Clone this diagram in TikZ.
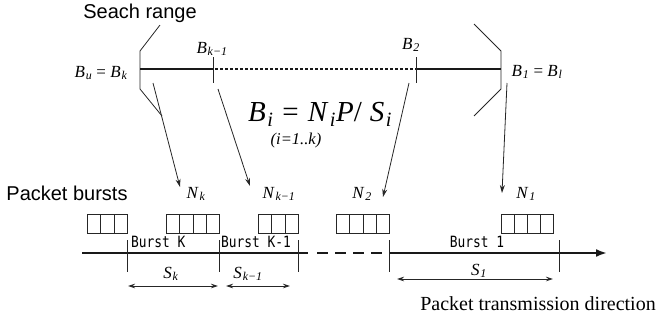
\documentclass[tikz,border=0pt]{standalone}
\usepackage{fontspec}
\setmainfont{Liberation Serif}
\setsansfont{Liberation Sans}
\newfontfamily\burstfont[FakeStretch=0.83]{DejaVu Sans Mono}
\usetikzlibrary{arrows.meta}
\newcommand{\iv}[2]{\textit{#1}\kern0.05em\textsubscript{\textit{#2}}}
\begin{document}
\begin{tikzpicture}[x=1pt,y=-1pt,
  thinl/.style={line width=0.8pt, draw=black!85},
  thickl/.style={line width=2.6pt, draw=black!90},
  arr/.style={thinl, -{Stealth[length=8pt,width=5pt]}},
  darr/.style={thinl, {Stealth[length=7pt,width=4.5pt]}-{Stealth[length=7pt,width=4.5pt]}},
  cell/.style={draw=black!85, line width=0.7pt, minimum width=13.3pt, minimum height=19pt, inner sep=0pt, anchor=north west},
  lab/.style={inner sep=0pt, font=\fontsize{17}{19}\selectfont},
  big/.style={inner sep=0pt, font=\sffamily\fontsize{20}{24}\selectfont},
  burst/.style={inner sep=0pt, font=\burstfont\fontsize{15.5}{18}\selectfont},
]
\useasboundingbox (0,0) rectangle (663,327);

% search range
\node[big] (seach) at (140,13) {Seach range};
\draw[thinl] (160,25) -- (140,51) -- (140,89) -- (162,116);
\draw[thinl] (474,24) -- (501,51) -- (501,89) -- (474,116);
\draw[thickl] (140,69) -- (213,69);
\draw[thickl] (416,69) -- (501,69);
\draw[line width=2.6pt, draw=black!90, dash pattern=on 2.5pt off 2.5pt] (215,69) -- (416,69);
\draw[thinl] (213,57) -- (213,83);
\draw[thinl] (416,57) -- (416,83);

\node[lab] (bu) at (101,73) {\iv{B}{u} = \iv{B}{k}};
\node[lab] (bl) at (537,72) {\iv{B}{1} = \iv{B}{l}};
\node[lab] (bk1) at (212,49) {\iv{B}{k−1}};
\node[lab] (b2) at (411,45) {\iv{B}{2}};

\node[inner sep=0pt, font=\fontsize{29}{32}\selectfont] (formula) at (320,114)
  {\iv{B}{i}\kern9pt=\kern9pt\iv{N}{i}\textit{P}/\kern8pt\iv{S}{i}};
\node[inner sep=0pt, font=\itshape\fontsize{16.5}{18}\selectfont] (range) at (296,141) {(i=1..k)};

% arrows
\coordinate (a1s) at (153,83);  \coordinate (a1e) at (180,187);
\coordinate (a2s) at (218,89);  \coordinate (a2e) at (250,186);
\coordinate (a3s) at (409,83);  \coordinate (a3e) at (383,197);
\coordinate (a4s) at (507,83);  \coordinate (a4e) at (502,193);
\draw[arr] (a1s) -- (a1e);
\draw[arr] (a2s) -- (a2e);
\draw[arr] (a3s) -- (a3e);
\draw[arr] (a4s) -- (a4e);

% packet bursts
\node[big] (pb) at (67,193) {Packet bursts};
\node[lab] (nk) at (196,194) {\iv{N}{k}};
\node[lab] (nk1) at (279,194) {\iv{N}{k−1}};
\node[lab] (n2) at (362,194) {\iv{N}{2}};
\node[lab] (n1) at (526,194) {\iv{N}{1}};

\foreach \i in {0,1,2} \node[cell] (ga\i) at (87+13.33*\i,214) {};
\foreach \i in {0,1,2,3} \node[cell] (gb\i) at (166+13.25*\i,214) {};
\foreach \i in {0,1,2} \node[cell] (gc\i) at (258+13.33*\i,214) {};
\foreach \i in {0,1,2,3} \node[cell] (gd\i) at (336+13.25*\i,214) {};
\foreach \i in {0,1,2,3} \node[cell] (ge\i) at (501+13.0*\i,214) {};

% main line
\draw[thickl] (82,253) -- (308,253);
\draw[line width=2.6pt, draw=black!90, dash pattern=on 10.5pt off 7.5pt] (317,253) -- (384,253);
\draw[line width=2.6pt, draw=black!90, -{Latex[length=11pt,width=8pt]}] (389,253) -- (607,253);
\foreach \x in {127,219,298,389,559} \draw[thinl] (\x,240) -- (\x,272);

\node[burst, anchor=west] (bk) at (131,242) {Burst K};
\node[burst, anchor=west] (bkm) at (221,242) {Burst K-1};
\node[burst] (b1) at (477,242) {Burst 1};

% sizes
\node[lab] (sk) at (171,274) {\iv{S}{k}};
\node[lab] (sk1) at (248,274) {\iv{S}{k−1}};
\node[lab] (s1) at (479,271) {\iv{S}{1}};
\coordinate (d1a) at (128,286); \coordinate (d1b) at (218,286);
\coordinate (d2a) at (226,286); \coordinate (d2b) at (290,286);
\coordinate (d3a) at (397,279); \coordinate (d3b) at (553,279);
\draw[darr] (d1a) -- (d1b);
\draw[darr] (d2a) -- (d2b);
\draw[darr] (d3a) -- (d3b);

\node[inner sep=0pt, font=\fontsize{20}{24}\selectfont] (dir) at (538,304) {Packet transmission direction};
\end{tikzpicture}
\end{document}
